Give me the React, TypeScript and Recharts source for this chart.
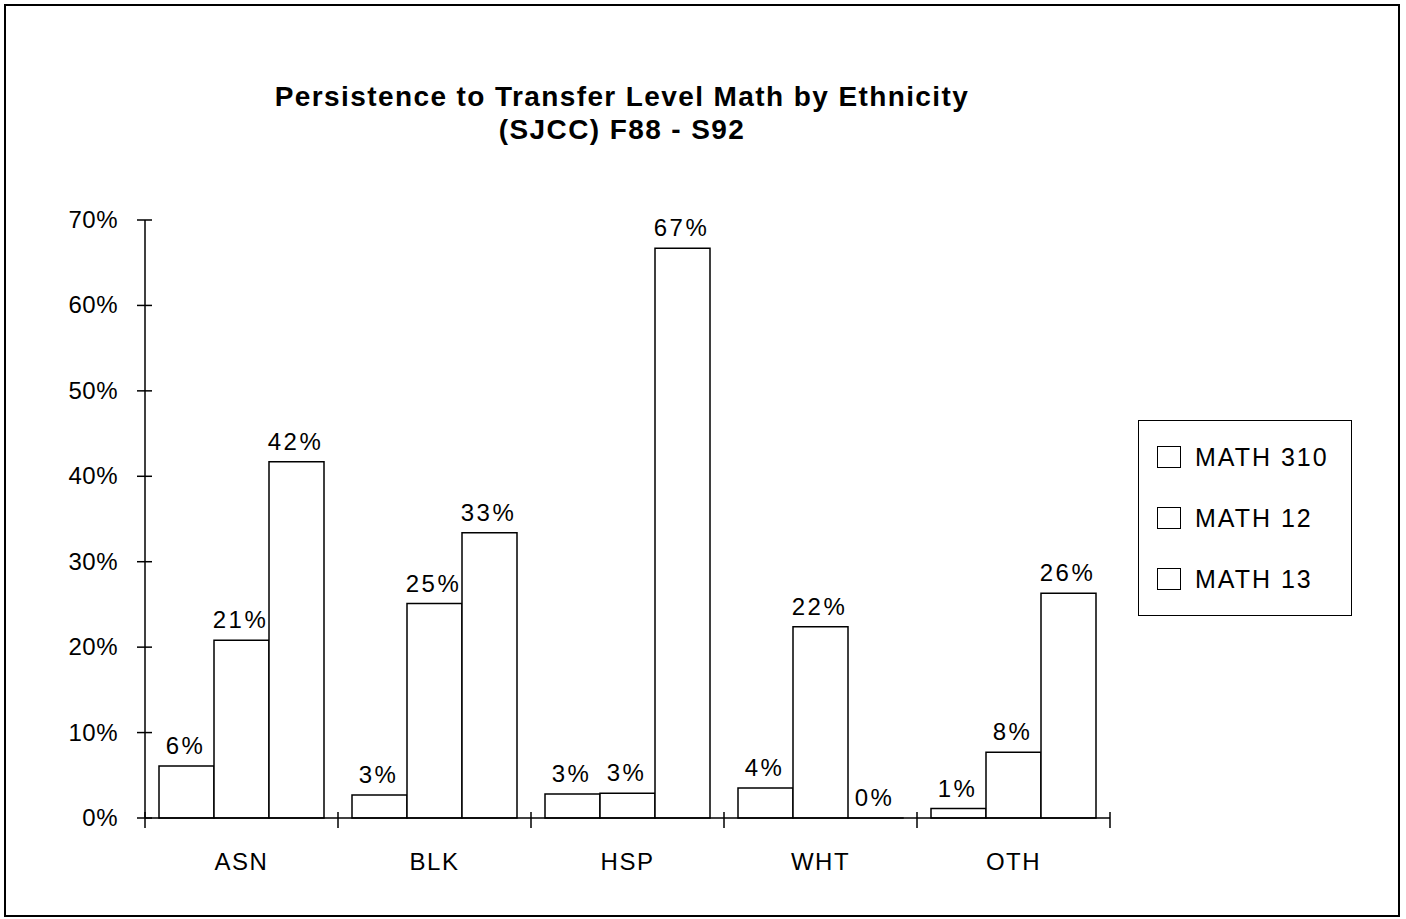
import { BarChart, Bar, XAxis, YAxis, LabelList } from "recharts";

const groups = ["ASN", "BLK", "HSP", "WHT", "OTH"];
const math310 = [6.1, 2.7, 2.8, 3.5, 1.1];
const math12 = [20.8, 25.1, 2.9, 22.4, 7.7];
const math13 = [41.7, 33.4, 66.7, 0, 26.3];
const yTicks = [0, 10, 20, 30, 40, 50, 60, 70];
const seriesNames = ["MATH 310", "MATH 12", "MATH 13"];

const data = groups.map((g, i) => ({
  group: g,
  m310: math310[i],
  m12: math12[i],
  m13: math13[i],
}));

const FONT = "'Liberation Sans', Arial, Helvetica, sans-serif";

function YTick(props: any) {
  const { x, y, payload } = props;
  const ax = x + 8;
  return (
    <g>
      <line x1={ax - 8} x2={ax + 7} y1={y} y2={y} stroke="#000" strokeWidth={1.5} />
      <text x={ax - 27} y={y + 8} textAnchor="end" fontSize={24} letterSpacing={0.5} fontFamily={FONT} fill="#000">
        {`${payload.value}%`}
      </text>
    </g>
  );
}

function XTick(props: any) {
  const { x, y, payload, index } = props;
  const half = payload.offset ?? 96.5;
  const top = y - 8;
  return (
    <g>
      <line x1={x - half} x2={x - half} y1={top - 6} y2={top + 10} stroke="#000" strokeWidth={1.5} />
      {index === groups.length - 1 && (
        <line x1={x + half} x2={x + half} y1={top - 6} y2={top + 10} stroke="#000" strokeWidth={1.5} />
      )}
      <text x={x} y={top + 52} textAnchor="middle" fontSize={24} letterSpacing={1.5} fontFamily={FONT} fill="#000">
        {payload.value}
      </text>
    </g>
  );
}

function BarLabel(props: any) {
  const { x, y, width, value } = props;
  if (value == null) return null;
  return (
    <text x={Number(x) + Number(width) / 2 - 1} y={Number(y) - 12} textAnchor="middle" fontSize={24}
          letterSpacing={2.5} fontFamily={FONT} fill="#000">
      {`${Math.round(Number(value))}%`}
    </text>
  );
}

// keep zero bars in the layout so their label is drawn
const keepZero = (v: any) => (Number(v) === 0 ? 0.01 : 0);

export default function App() {
  return (
    <div style={{ position: "absolute", left: 0, top: 0, width: 1406, height: 919, background: "#fff", fontFamily: FONT }}>
      <div style={{ position: "absolute", left: 4, top: 4, width: 1392, height: 909, border: "2px solid #000" }} />
      <div style={{ position: "absolute", left: 0, width: 1244, top: 80, textAlign: "center", fontSize: 28,
                    fontWeight: "bold", lineHeight: "33px", letterSpacing: 1.4 }}>
        Persistence to Transfer Level Math by Ethnicity
        <br />
        (SJCC) F88 - S92
      </div>
      <div style={{ position: "absolute" }}>
        <BarChart
          width={1406}
          height={919}
          data={data}
          margin={{ top: 220, right: 296, bottom: 0, left: 0 }}
          barCategoryGap={14}
          barGap={0}
        >
          <YAxis
            width={145}
            domain={[0, 70]}
            ticks={yTicks}
            axisLine={{ stroke: "#000", strokeWidth: 1.5 }}
            tickLine={false}
            tick={<YTick />}
            interval={0}
          />
          <XAxis
            dataKey="group"
            height={101}
            axisLine={{ stroke: "#000", strokeWidth: 1.5 }}
            tickLine={false}
            tick={<XTick />}
            interval={0}
          />
          {["m310", "m12", "m13"].map((k) => (
            <Bar key={k} dataKey={k} fill="#fff" stroke="#000" strokeWidth={1.5} minPointSize={keepZero}
                 isAnimationActive={false}>
              <LabelList dataKey={k} content={<BarLabel />} />
            </Bar>
          ))}
        </BarChart>
      </div>
      <div style={{ position: "absolute", left: 1138, top: 420, width: 212, height: 194, border: "1.5px solid #000" }}>
        {seriesNames.map((n, i) => (
          <div key={n} style={{ position: "absolute", left: 18, top: 22 + i * 61, height: 28, display: "flex",
                                alignItems: "center", fontSize: 25, letterSpacing: 2, whiteSpace: "nowrap" }}>
            <span style={{ display: "inline-block", width: 22, height: 20, border: "1.5px solid #000", marginRight: 14 }} />
            {n}
          </div>
        ))}
      </div>
    </div>
  );
}
